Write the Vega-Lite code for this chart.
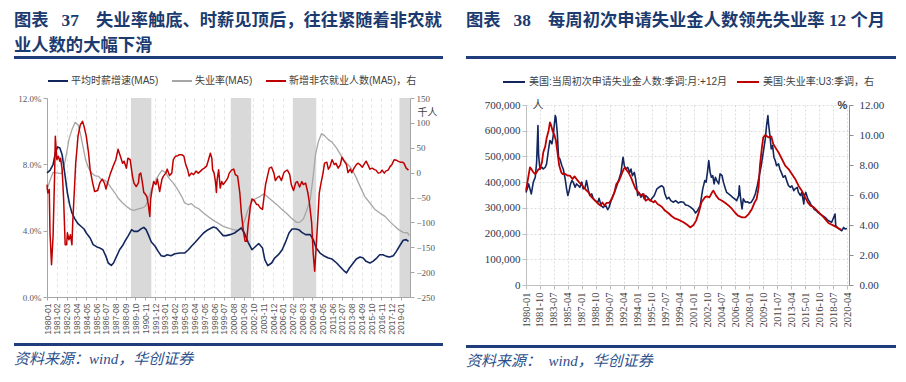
{
"$schema": "https://vega.github.io/schema/vega-lite/v6.json",
"background": "white",
"padding": {"left": 14, "top": 12, "right": 5, "bottom": 5},
"spacing": 23,
"resolve": {"scale": {"color": "independent"}, "legend": {"color": "independent"}},
"config": {
  "view": {"stroke": null},
  "title": {"font": "Liberation Serif, Noto Sans CJK SC", "fontWeight": "bold", "color": "#1b3a6f", "anchor": "start"},
  "line": {"strokeJoin": "round"}
},
"datasets": {
  "bandsL": [{"d":"1989-04","d2":"1991-07"},{"d":"2000-04","d2":"2002-07"},{"d":"2007-02","d2":"2009-09"},{"d":"2018-11","d2":"2020-01"}],
  "wage": [{"d":"1980-01","v":7.48},{"d":"1980-05","v":7.64},{"d":"1980-09","v":7.98},{"d":"1980-12","v":8.68},{"d":"1981-03","v":9.05},{"d":"1981-06","v":8.98},{"d":"1981-09","v":8.58},{"d":"1982-01","v":7.28},{"d":"1982-04","v":6.27},{"d":"1982-07","v":5.57},{"d":"1982-10","v":5.07},{"d":"1983-02","v":4.70},{"d":"1983-06","v":4.42},{"d":"1983-11","v":4.22},{"d":"1984-02","v":4.10},{"d":"1984-05","v":3.86},{"d":"1984-10","v":3.56},{"d":"1985-02","v":3.16},{"d":"1985-07","v":3.02},{"d":"1985-11","v":2.95},{"d":"1986-03","v":2.85},{"d":"1986-07","v":2.45},{"d":"1986-10","v":2.05},{"d":"1987-02","v":1.91},{"d":"1987-05","v":2.05},{"d":"1987-09","v":2.45},{"d":"1988-01","v":2.85},{"d":"1988-05","v":3.10},{"d":"1988-08","v":3.36},{"d":"1988-12","v":3.66},{"d":"1989-05","v":4.06},{"d":"1989-08","v":3.96},{"d":"1990-01","v":3.96},{"d":"1990-05","v":4.10},{"d":"1990-09","v":4.20},{"d":"1990-12","v":4.06},{"d":"1991-03","v":3.76},{"d":"1991-07","v":3.32},{"d":"1991-12","v":3.06},{"d":"1992-04","v":2.75},{"d":"1992-08","v":2.49},{"d":"1992-12","v":2.45},{"d":"1993-04","v":2.55},{"d":"1993-09","v":2.49},{"d":"1994-02","v":2.61},{"d":"1994-09","v":2.65},{"d":"1995-03","v":2.65},{"d":"1995-08","v":2.85},{"d":"1995-12","v":3.06},{"d":"1996-05","v":3.30},{"d":"1996-10","v":3.56},{"d":"1997-04","v":3.86},{"d":"1997-10","v":4.06},{"d":"1998-05","v":4.22},{"d":"1998-09","v":4.16},{"d":"1999-02","v":3.90},{"d":"1999-06","v":3.70},{"d":"1999-10","v":3.70},{"d":"2000-03","v":3.76},{"d":"2000-09","v":3.86},{"d":"2001-03","v":4.06},{"d":"2001-06","v":4.16},{"d":"2001-10","v":3.86},{"d":"2002-03","v":3.30},{"d":"2002-08","v":2.85},{"d":"2003-01","v":3.06},{"d":"2003-05","v":3.22},{"d":"2003-10","v":2.95},{"d":"2004-01","v":2.25},{"d":"2004-05","v":1.89},{"d":"2004-10","v":2.05},{"d":"2005-02","v":2.35},{"d":"2005-07","v":2.55},{"d":"2005-12","v":2.85},{"d":"2006-04","v":3.26},{"d":"2006-09","v":3.86},{"d":"2007-01","v":4.10},{"d":"2007-06","v":4.10},{"d":"2007-10","v":4.06},{"d":"2008-02","v":3.90},{"d":"2008-07","v":3.76},{"d":"2009-01","v":3.76},{"d":"2009-05","v":3.46},{"d":"2009-09","v":2.95},{"d":"2010-02","v":2.65},{"d":"2010-07","v":2.49},{"d":"2011-01","v":2.35},{"d":"2011-06","v":2.29},{"d":"2011-12","v":2.05},{"d":"2012-04","v":1.85},{"d":"2012-09","v":1.61},{"d":"2013-01","v":1.45},{"d":"2013-05","v":1.75},{"d":"2013-10","v":2.05},{"d":"2014-02","v":2.29},{"d":"2014-07","v":2.41},{"d":"2014-11","v":2.35},{"d":"2015-03","v":2.15},{"d":"2015-08","v":2.05},{"d":"2015-12","v":2.15},{"d":"2016-05","v":2.35},{"d":"2016-09","v":2.55},{"d":"2017-01","v":2.55},{"d":"2017-06","v":2.45},{"d":"2017-10","v":2.41},{"d":"2018-03","v":2.49},{"d":"2018-07","v":2.75},{"d":"2018-11","v":3.06},{"d":"2019-04","v":3.42},{"d":"2019-08","v":3.46},{"d":"2019-11","v":3.36}],
  "unemp": [{"d":"1980-01","v":6.47},{"d":"1980-05","v":7.03},{"d":"1980-09","v":7.52},{"d":"1981-02","v":7.48},{"d":"1981-08","v":7.44},{"d":"1981-12","v":7.98},{"d":"1982-03","v":8.68},{"d":"1982-06","v":9.49},{"d":"1982-10","v":10.09},{"d":"1983-02","v":10.53},{"d":"1983-06","v":10.39},{"d":"1983-09","v":9.89},{"d":"1984-01","v":8.98},{"d":"1984-04","v":8.28},{"d":"1984-08","v":7.78},{"d":"1984-12","v":7.48},{"d":"1985-04","v":7.32},{"d":"1985-09","v":7.28},{"d":"1986-01","v":7.08},{"d":"1986-06","v":7.03},{"d":"1986-10","v":6.83},{"d":"1987-02","v":6.57},{"d":"1987-07","v":6.27},{"d":"1987-11","v":5.97},{"d":"1988-05","v":5.67},{"d":"1988-10","v":5.47},{"d":"1989-04","v":5.27},{"d":"1989-08","v":5.23},{"d":"1990-02","v":5.31},{"d":"1990-07","v":5.37},{"d":"1990-11","v":5.47},{"d":"1991-03","v":5.87},{"d":"1991-07","v":6.47},{"d":"1991-12","v":6.97},{"d":"1992-05","v":7.38},{"d":"1992-09","v":7.64},{"d":"1993-02","v":7.48},{"d":"1993-06","v":7.18},{"d":"1993-12","v":6.87},{"d":"1994-06","v":6.47},{"d":"1994-11","v":6.07},{"d":"1995-03","v":5.67},{"d":"1995-08","v":5.57},{"d":"1995-12","v":5.63},{"d":"1996-05","v":5.43},{"d":"1996-10","v":5.31},{"d":"1997-04","v":5.07},{"d":"1997-10","v":4.86},{"d":"1998-05","v":4.62},{"d":"1998-11","v":4.46},{"d":"1999-06","v":4.26},{"d":"2000-01","v":4.16},{"d":"2000-07","v":4.06},{"d":"2001-01","v":4.02},{"d":"2001-05","v":4.10},{"d":"2001-10","v":4.56},{"d":"2002-02","v":5.17},{"d":"2002-07","v":5.71},{"d":"2002-12","v":5.91},{"d":"2003-07","v":6.07},{"d":"2003-12","v":6.23},{"d":"2004-05","v":6.03},{"d":"2004-10","v":5.83},{"d":"2005-05","v":5.57},{"d":"2005-11","v":5.31},{"d":"2006-06","v":5.03},{"d":"2006-12","v":4.76},{"d":"2007-07","v":4.50},{"d":"2007-11","v":4.50},{"d":"2008-04","v":4.70},{"d":"2008-08","v":5.17},{"d":"2009-01","v":5.87},{"d":"2009-05","v":7.28},{"d":"2009-08","v":8.58},{"d":"2009-12","v":9.39},{"d":"2010-04","v":9.85},{"d":"2010-08","v":9.73},{"d":"2011-01","v":9.49},{"d":"2011-06","v":9.33},{"d":"2011-12","v":8.98},{"d":"2012-04","v":8.68},{"d":"2012-09","v":8.28},{"d":"2013-01","v":8.08},{"d":"2013-07","v":7.78},{"d":"2013-12","v":7.38},{"d":"2014-07","v":6.67},{"d":"2015-01","v":6.07},{"d":"2015-08","v":5.67},{"d":"2016-02","v":5.31},{"d":"2016-09","v":5.07},{"d":"2017-04","v":4.86},{"d":"2017-10","v":4.56},{"d":"2018-05","v":4.26},{"d":"2018-10","v":4.06},{"d":"2019-04","v":3.90},{"d":"2019-10","v":3.86},{"d":"2019-12","v":3.70}],
  "nfp": [{"d":"1980-01","v":-24},{"d":"1980-02","v":-41},{"d":"1980-04","v":-34},{"d":"1980-05","v":-121},{"d":"1980-07","v":-185},{"d":"1980-09","v":-128},{"d":"1980-11","v":-7},{"d":"1980-12","v":73},{"d":"1981-02","v":26},{"d":"1981-04","v":33},{"d":"1981-06","v":23},{"d":"1981-07","v":29},{"d":"1981-09","v":6},{"d":"1981-11","v":-54},{"d":"1982-01","v":-145},{"d":"1982-03","v":-145},{"d":"1982-04","v":-121},{"d":"1982-06","v":-135},{"d":"1982-08","v":-125},{"d":"1982-10","v":-145},{"d":"1982-11","v":-101},{"d":"1983-01","v":-41},{"d":"1983-03","v":19},{"d":"1983-05","v":53},{"d":"1983-06","v":73},{"d":"1983-09","v":96},{"d":"1983-12","v":103},{"d":"1984-02","v":93},{"d":"1984-05","v":73},{"d":"1984-08","v":39},{"d":"1984-10","v":6},{"d":"1985-01","v":-18},{"d":"1985-04","v":-38},{"d":"1985-08","v":-36},{"d":"1985-11","v":-20},{"d":"1986-02","v":-13},{"d":"1986-05","v":-21},{"d":"1986-07","v":-33},{"d":"1986-10","v":-16},{"d":"1987-01","v":-1},{"d":"1987-04","v":11},{"d":"1987-08","v":26},{"d":"1987-11","v":47},{"d":"1988-02","v":33},{"d":"1988-05","v":19},{"d":"1988-07","v":23},{"d":"1988-10","v":9},{"d":"1988-12","v":29},{"d":"1989-03","v":26},{"d":"1989-06","v":-7},{"d":"1989-08","v":-21},{"d":"1989-11","v":-28},{"d":"1990-02","v":-20},{"d":"1990-03","v":-4},{"d":"1990-05","v":-1},{"d":"1990-07","v":-18},{"d":"1990-09","v":-40},{"d":"1990-10","v":-41},{"d":"1991-01","v":-48},{"d":"1991-03","v":-64},{"d":"1991-05","v":-88},{"d":"1991-06","v":-54},{"d":"1991-08","v":-34},{"d":"1991-10","v":-18},{"d":"1992-01","v":-24},{"d":"1992-03","v":-13},{"d":"1992-06","v":-38},{"d":"1992-09","v":-13},{"d":"1992-11","v":-7},{"d":"1993-02","v":-1},{"d":"1993-04","v":7},{"d":"1993-07","v":-6},{"d":"1993-10","v":-1},{"d":"1993-12","v":26},{"d":"1994-03","v":33},{"d":"1994-06","v":34},{"d":"1994-08","v":36},{"d":"1994-11","v":36},{"d":"1995-02","v":33},{"d":"1995-04","v":19},{"d":"1995-07","v":6},{"d":"1995-09","v":-7},{"d":"1995-12","v":-1},{"d":"1996-03","v":-4},{"d":"1996-06","v":3},{"d":"1996-09","v":-1},{"d":"1996-12","v":3},{"d":"1997-02","v":6},{"d":"1997-05","v":9},{"d":"1997-08","v":13},{"d":"1997-10","v":23},{"d":"1998-01","v":39},{"d":"1998-03","v":29},{"d":"1998-04","v":6},{"d":"1998-06","v":-1},{"d":"1998-08","v":-21},{"d":"1998-09","v":-40},{"d":"1998-10","v":-14},{"d":"1998-12","v":6},{"d":"1999-02","v":-31},{"d":"1999-04","v":-18},{"d":"1999-06","v":-24},{"d":"1999-09","v":-18},{"d":"1999-12","v":-11},{"d":"2000-02","v":-1},{"d":"2000-05","v":5},{"d":"2000-08","v":7},{"d":"2000-10","v":-4},{"d":"2001-01","v":-7},{"d":"2001-04","v":-41},{"d":"2001-06","v":-81},{"d":"2001-09","v":-121},{"d":"2001-11","v":-138},{"d":"2002-01","v":-138},{"d":"2002-03","v":-105},{"d":"2002-06","v":-68},{"d":"2002-08","v":-53},{"d":"2002-11","v":-56},{"d":"2003-02","v":-64},{"d":"2003-04","v":-64},{"d":"2003-07","v":-71},{"d":"2003-10","v":-74},{"d":"2003-11","v":-61},{"d":"2004-02","v":-24},{"d":"2004-05","v":-4},{"d":"2004-07","v":9},{"d":"2004-10","v":11},{"d":"2005-01","v":-1},{"d":"2005-03","v":-16},{"d":"2005-06","v":-9},{"d":"2005-08","v":-7},{"d":"2005-11","v":-16},{"d":"2006-02","v":-1},{"d":"2006-04","v":3},{"d":"2006-07","v":5},{"d":"2006-10","v":-4},{"d":"2006-12","v":-24},{"d":"2007-03","v":-36},{"d":"2007-06","v":-20},{"d":"2007-08","v":-18},{"d":"2007-11","v":-29},{"d":"2008-02","v":-18},{"d":"2008-04","v":-24},{"d":"2008-07","v":-21},{"d":"2008-10","v":-41},{"d":"2008-12","v":-61},{"d":"2009-03","v":-101},{"d":"2009-05","v":-162},{"d":"2009-07","v":-198},{"d":"2009-09","v":-148},{"d":"2009-11","v":-95},{"d":"2010-01","v":-41},{"d":"2010-03","v":-24},{"d":"2010-06","v":-1},{"d":"2010-08","v":19},{"d":"2010-11","v":21},{"d":"2011-01","v":7},{"d":"2011-03","v":11},{"d":"2011-06","v":26},{"d":"2011-09","v":16},{"d":"2011-11","v":19},{"d":"2012-02","v":9},{"d":"2012-05","v":16},{"d":"2012-07","v":31},{"d":"2012-10","v":23},{"d":"2013-01","v":16},{"d":"2013-03","v":0},{"d":"2013-06","v":7},{"d":"2013-08","v":0},{"d":"2013-11","v":9},{"d":"2014-02","v":16},{"d":"2014-04","v":19},{"d":"2014-07","v":16},{"d":"2014-10","v":11},{"d":"2014-12","v":16},{"d":"2015-03","v":23},{"d":"2015-06","v":14},{"d":"2015-08","v":7},{"d":"2015-11","v":9},{"d":"2016-02","v":6},{"d":"2016-04","v":5},{"d":"2016-07","v":-1},{"d":"2016-10","v":0},{"d":"2016-12","v":5},{"d":"2017-03","v":-1},{"d":"2017-05","v":3},{"d":"2017-08","v":5},{"d":"2017-11","v":13},{"d":"2018-01","v":16},{"d":"2018-04","v":26},{"d":"2018-07","v":25},{"d":"2018-09","v":23},{"d":"2018-12","v":21},{"d":"2019-03","v":21},{"d":"2019-05","v":19},{"d":"2019-08","v":9},{"d":"2019-11","v":5}],
  "claims": [{"d":"1980-01","v":360000},{"d":"1980-05","v":393000},{"d":"1980-09","v":354000},{"d":"1980-12","v":400000},{"d":"1981-03","v":419000},{"d":"1981-05","v":477000},{"d":"1981-07","v":620000},{"d":"1981-08","v":503000},{"d":"1981-10","v":451000},{"d":"1982-01","v":458000},{"d":"1982-03","v":451000},{"d":"1982-06","v":458000},{"d":"1982-08","v":471000},{"d":"1982-11","v":529000},{"d":"1983-01","v":562000},{"d":"1983-04","v":549000},{"d":"1983-06","v":581000},{"d":"1983-09","v":659000},{"d":"1983-10","v":652000},{"d":"1983-12","v":594000},{"d":"1984-02","v":497000},{"d":"1984-04","v":490000},{"d":"1984-07","v":464000},{"d":"1984-09","v":451000},{"d":"1984-12","v":412000},{"d":"1985-02","v":374000},{"d":"1985-04","v":348000},{"d":"1985-06","v":367000},{"d":"1985-08","v":393000},{"d":"1985-10","v":406000},{"d":"1985-12","v":400000},{"d":"1986-03","v":380000},{"d":"1986-05","v":393000},{"d":"1986-08","v":386000},{"d":"1986-10","v":380000},{"d":"1987-01","v":400000},{"d":"1987-03","v":374000},{"d":"1987-06","v":380000},{"d":"1987-08","v":406000},{"d":"1987-11","v":367000},{"d":"1988-01","v":348000},{"d":"1988-04","v":354000},{"d":"1988-06","v":337000},{"d":"1988-09","v":328000},{"d":"1989-01","v":322000},{"d":"1989-03","v":337000},{"d":"1989-06","v":309000},{"d":"1989-09","v":302000},{"d":"1990-01","v":309000},{"d":"1990-04","v":293000},{"d":"1990-06","v":302000},{"d":"1990-10","v":335000},{"d":"1991-02","v":360000},{"d":"1991-05","v":380000},{"d":"1991-09","v":412000},{"d":"1991-12","v":438000},{"d":"1992-03","v":497000},{"d":"1992-05","v":464000},{"d":"1992-07","v":451000},{"d":"1992-10","v":458000},{"d":"1993-01","v":438000},{"d":"1993-03","v":451000},{"d":"1993-05","v":425000},{"d":"1993-08","v":438000},{"d":"1993-10","v":412000},{"d":"1994-01","v":348000},{"d":"1994-03","v":360000},{"d":"1994-06","v":341000},{"d":"1994-08","v":354000},{"d":"1994-11","v":335000},{"d":"1995-01","v":348000},{"d":"1995-04","v":341000},{"d":"1995-08","v":328000},{"d":"1995-10","v":335000},{"d":"1996-02","v":348000},{"d":"1996-06","v":374000},{"d":"1996-09","v":380000},{"d":"1997-01","v":386000},{"d":"1997-04","v":380000},{"d":"1997-06","v":354000},{"d":"1997-09","v":335000},{"d":"1997-12","v":341000},{"d":"1998-03","v":328000},{"d":"1998-07","v":322000},{"d":"1998-10","v":328000},{"d":"1999-02","v":319000},{"d":"1999-06","v":324000},{"d":"1999-10","v":322000},{"d":"2000-01","v":311000},{"d":"2000-05","v":309000},{"d":"2000-09","v":302000},{"d":"2001-01","v":293000},{"d":"2001-04","v":280000},{"d":"2001-07","v":289000},{"d":"2001-11","v":309000},{"d":"2002-03","v":374000},{"d":"2002-06","v":406000},{"d":"2002-08","v":400000},{"d":"2002-10","v":438000},{"d":"2002-12","v":484000},{"d":"2003-02","v":438000},{"d":"2003-04","v":419000},{"d":"2003-06","v":425000},{"d":"2003-08","v":393000},{"d":"2003-10","v":419000},{"d":"2003-12","v":406000},{"d":"2004-03","v":393000},{"d":"2004-05","v":432000},{"d":"2004-08","v":425000},{"d":"2004-10","v":400000},{"d":"2005-01","v":374000},{"d":"2005-03","v":360000},{"d":"2005-06","v":354000},{"d":"2005-09","v":348000},{"d":"2005-12","v":341000},{"d":"2006-03","v":335000},{"d":"2006-06","v":328000},{"d":"2006-09","v":348000},{"d":"2006-10","v":386000},{"d":"2006-12","v":335000},{"d":"2007-02","v":296000},{"d":"2007-04","v":335000},{"d":"2007-07","v":322000},{"d":"2007-10","v":324000},{"d":"2008-01","v":319000},{"d":"2008-04","v":322000},{"d":"2008-07","v":335000},{"d":"2008-10","v":354000},{"d":"2009-01","v":386000},{"d":"2009-04","v":425000},{"d":"2009-07","v":464000},{"d":"2009-10","v":516000},{"d":"2010-01","v":568000},{"d":"2010-03","v":620000},{"d":"2010-05","v":659000},{"d":"2010-06","v":626000},{"d":"2010-08","v":581000},{"d":"2010-10","v":529000},{"d":"2010-12","v":542000},{"d":"2011-02","v":497000},{"d":"2011-04","v":484000},{"d":"2011-06","v":464000},{"d":"2011-09","v":471000},{"d":"2011-11","v":451000},{"d":"2012-02","v":432000},{"d":"2012-04","v":419000},{"d":"2012-07","v":425000},{"d":"2012-10","v":400000},{"d":"2012-12","v":386000},{"d":"2013-03","v":380000},{"d":"2013-05","v":386000},{"d":"2013-08","v":367000},{"d":"2013-10","v":374000},{"d":"2014-01","v":380000},{"d":"2014-03","v":360000},{"d":"2014-06","v":348000},{"d":"2014-08","v":360000},{"d":"2014-11","v":315000},{"d":"2014-12","v":348000},{"d":"2015-02","v":360000},{"d":"2015-05","v":335000},{"d":"2015-08","v":322000},{"d":"2015-10","v":311000},{"d":"2016-01","v":302000},{"d":"2016-03","v":293000},{"d":"2016-06","v":289000},{"d":"2016-08","v":283000},{"d":"2017-02","v":272000},{"d":"2017-07","v":263000},{"d":"2017-12","v":250000},{"d":"2018-05","v":244000},{"d":"2018-10","v":276000},{"d":"2018-11","v":231000},{"d":"2019-03","v":220000},{"d":"2019-08","v":211000},{"d":"2019-11","v":224000},{"d":"2020-01","v":218000},{"d":"2020-04","v":220000}],
  "ur": [{"d":"1980-01","v":6.29},{"d":"1980-04","v":7.07},{"d":"1980-07","v":7.84},{"d":"1980-09","v":7.73},{"d":"1980-12","v":7.51},{"d":"1981-03","v":7.40},{"d":"1981-05","v":7.51},{"d":"1981-08","v":7.73},{"d":"1981-10","v":7.73},{"d":"1982-01","v":8.18},{"d":"1982-03","v":8.84},{"d":"1982-06","v":9.24},{"d":"1982-08","v":9.78},{"d":"1982-11","v":10.29},{"d":"1983-01","v":10.84},{"d":"1983-03","v":10.62},{"d":"1983-05","v":10.29},{"d":"1983-08","v":9.96},{"d":"1983-10","v":9.62},{"d":"1984-01","v":8.62},{"d":"1984-03","v":7.96},{"d":"1984-06","v":7.51},{"d":"1984-08","v":7.40},{"d":"1984-12","v":7.40},{"d":"1985-04","v":7.29},{"d":"1985-07","v":7.29},{"d":"1985-11","v":7.07},{"d":"1986-02","v":7.24},{"d":"1986-05","v":7.07},{"d":"1986-09","v":6.84},{"d":"1987-01","v":6.67},{"d":"1987-06","v":6.40},{"d":"1987-11","v":6.18},{"d":"1988-04","v":5.84},{"d":"1988-09","v":5.62},{"d":"1989-02","v":5.40},{"d":"1989-05","v":5.29},{"d":"1989-08","v":5.51},{"d":"1989-11","v":5.29},{"d":"1990-02","v":5.47},{"d":"1990-06","v":5.47},{"d":"1990-10","v":5.73},{"d":"1991-02","v":6.18},{"d":"1991-05","v":6.73},{"d":"1991-09","v":6.96},{"d":"1992-01","v":7.40},{"d":"1992-04","v":7.73},{"d":"1992-06","v":7.84},{"d":"1992-09","v":7.62},{"d":"1992-11","v":7.51},{"d":"1993-03","v":7.18},{"d":"1993-07","v":6.73},{"d":"1993-10","v":6.40},{"d":"1994-02","v":6.18},{"d":"1994-06","v":5.96},{"d":"1994-10","v":6.07},{"d":"1995-01","v":5.62},{"d":"1995-05","v":5.73},{"d":"1995-09","v":5.62},{"d":"1996-01","v":5.51},{"d":"1996-03","v":5.62},{"d":"1996-07","v":5.40},{"d":"1996-11","v":5.29},{"d":"1997-02","v":5.18},{"d":"1997-06","v":4.96},{"d":"1997-11","v":4.80},{"d":"1998-04","v":4.60},{"d":"1998-09","v":4.44},{"d":"1999-02","v":4.36},{"d":"1999-10","v":4.18},{"d":"2000-04","v":4.00},{"d":"2000-08","v":3.84},{"d":"2001-01","v":4.00},{"d":"2001-05","v":4.29},{"d":"2001-09","v":4.84},{"d":"2002-01","v":5.51},{"d":"2002-06","v":5.84},{"d":"2002-09","v":5.91},{"d":"2003-01","v":5.84},{"d":"2003-05","v":6.18},{"d":"2003-07","v":6.29},{"d":"2003-11","v":5.96},{"d":"2004-03","v":5.73},{"d":"2004-08","v":5.62},{"d":"2005-01","v":5.47},{"d":"2005-06","v":5.29},{"d":"2005-11","v":5.07},{"d":"2006-04","v":4.80},{"d":"2006-08","v":4.62},{"d":"2007-02","v":4.51},{"d":"2007-07","v":4.51},{"d":"2007-12","v":4.73},{"d":"2008-05","v":5.07},{"d":"2008-09","v":5.51},{"d":"2008-12","v":5.73},{"d":"2009-03","v":6.51},{"d":"2009-05","v":7.96},{"d":"2009-08","v":9.18},{"d":"2009-10","v":9.84},{"d":"2010-01","v":10.0},{"d":"2010-06","v":9.84},{"d":"2010-10","v":9.91},{"d":"2011-01","v":9.40},{"d":"2011-05","v":9.11},{"d":"2011-09","v":8.84},{"d":"2012-02","v":8.40},{"d":"2012-07","v":7.96},{"d":"2012-12","v":7.73},{"d":"2013-05","v":7.40},{"d":"2013-10","v":7.07},{"d":"2014-03","v":6.62},{"d":"2014-08","v":6.29},{"d":"2015-01","v":5.84},{"d":"2015-05","v":5.51},{"d":"2015-09","v":5.29},{"d":"2016-02","v":5.18},{"d":"2016-07","v":4.96},{"d":"2016-12","v":4.73},{"d":"2017-05","v":4.51},{"d":"2017-12","v":4.13},{"d":"2018-08","v":3.96},{"d":"2019-03","v":3.78},{"d":"2019-07","v":3.69}]
},
"hconcat": [
  {"spacing": 7, "resolve": {"scale": {"color": "independent"}, "legend": {"color": "independent"}}, "vconcat": [
    {"width": 429, "height": 3, "data": {"values": [{}]}, "mark": {"type": "text", "text": ""}, "view": {"fill": "#1f3d7a", "stroke": null},
     "title": {"text": ["图表\u00a0\u00a0\u00a037\u00a0\u00a0\u00a0\u00a0失业率触底、时薪见顶后，往往紧随着非农就", "业人数的大幅下滑"], "fontSize": 17.3, "lineHeight": 25, "offset": -3, "anchor": "start"}},
    {"spacing": 3, "resolve": {"scale": {"color": "independent"}, "legend": {"color": "independent"}}, "vconcat": [
      {"spacing": 2, "resolve": {"scale": {"color": "independent"}, "legend": {"color": "independent"}}, "hconcat": [
        {"width": 1, "height": 1, "data": {"values": [{}]}, "mark": {"type": "text", "text": ""}, "view": {"stroke": null}},
        {"width": 363, "height": 199,
         "encoding": {"x": {"field": "d", "type": "temporal",
            "scale": {"type": "utc", "domain": [{"year":1980,"month":1,"date":1,"utc":true},{"year":2020,"month":1,"date":1,"utc":true}]},
            "axis": {"title": null, "values": [{"year":1980,"month":1,"utc":true},{"year":1981,"month":2,"utc":true},{"year":1982,"month":3,"utc":true},{"year":1983,"month":4,"utc":true},{"year":1984,"month":5,"utc":true},{"year":1985,"month":6,"utc":true},{"year":1986,"month":7,"utc":true},{"year":1987,"month":8,"utc":true},{"year":1988,"month":9,"utc":true},{"year":1989,"month":10,"utc":true},{"year":1990,"month":11,"utc":true},{"year":1991,"month":12,"utc":true},{"year":1993,"month":1,"utc":true},{"year":1994,"month":2,"utc":true},{"year":1995,"month":3,"utc":true},{"year":1996,"month":4,"utc":true},{"year":1997,"month":5,"utc":true},{"year":1998,"month":6,"utc":true},{"year":1999,"month":7,"utc":true},{"year":2000,"month":8,"utc":true},{"year":2001,"month":9,"utc":true},{"year":2002,"month":10,"utc":true},{"year":2003,"month":11,"utc":true},{"year":2004,"month":12,"utc":true},{"year":2006,"month":1,"utc":true},{"year":2007,"month":2,"utc":true},{"year":2008,"month":3,"utc":true},{"year":2009,"month":4,"utc":true},{"year":2010,"month":5,"utc":true},{"year":2011,"month":6,"utc":true},{"year":2012,"month":7,"utc":true},{"year":2013,"month":8,"utc":true},{"year":2014,"month":9,"utc":true},{"year":2015,"month":10,"utc":true},{"year":2016,"month":11,"utc":true},{"year":2017,"month":12,"utc":true},{"year":2019,"month":1,"utc":true}],
              "labelExpr": "utcFormat(datum.value, '%Y-%m')", "labelAngle": -90, "labelFont": "Liberation Sans", "labelFontSize": 8.5, "labelColor": "#595959", "labelPadding": 3, "labelOverlap": false, "labelFlush": false,
              "domainColor": "#a6a6a6", "tickColor": "#a6a6a6", "tickSize": 3, "grid": true, "gridColor": "#e3e3e3", "gridDash": [3, 3]}}},
         "layer": [
           {"data": {"name": "bandsL"}, "mark": {"type": "rect", "color": "#d9d9d9"}, "encoding": {"x2": {"field": "d2"}}},
           {"layer": [
             {"data": {"name": "unemp"}, "mark": {"type": "line", "strokeWidth": 1.3},
              "encoding": {"y": {"field": "v", "type": "quantitative", "scale": {"domain": [0, 12], "nice": false},
                  "axis": {"orient": "left", "title": null, "values": [0, 2, 4, 6, 8, 10, 12], "labelExpr": "format(datum.value, '.1f') + '%'", "grid": false, "labelFont": "Liberation Serif", "labelFontSize": 9, "labelColor": "#595959", "domainColor": "#a6a6a6", "tickColor": "#a6a6a6", "tickSize": 4, "labelPadding": 2}},
                "color": {"datum": "失业率(MA5)", "type": "nominal", "scale": {"domain": ["平均时薪增速(MA5)", "失业率(MA5)", "新增非农就业人数(MA5)，右"], "range": ["#13275e", "#a6a6a6", "#c00000"]},
                  "legend": {"orient": "none", "legendX": 0, "legendY": -28, "direction": "horizontal", "columns": 3, "title": null, "symbolType": "stroke", "symbolStrokeWidth": 2, "symbolSize": 400, "labelFontSize": 10, "labelFont": "Liberation Sans, Noto Sans CJK SC", "labelColor": "#404040", "columnPadding": 12, "labelOffset": 2, "labelLimit": 400}}}},
             {"data": {"name": "wage"}, "mark": {"type": "line", "strokeWidth": 1.6},
              "encoding": {"y": {"field": "v", "type": "quantitative"},
                "color": {"datum": "平均时薪增速(MA5)", "type": "nominal", "scale": {"domain": ["平均时薪增速(MA5)", "失业率(MA5)", "新增非农就业人数(MA5)，右"], "range": ["#13275e", "#a6a6a6", "#c00000"]}}}}
           ]},
           {"data": {"name": "nfp"}, "mark": {"type": "line", "strokeWidth": 1.5},
            "encoding": {"y": {"field": "v", "type": "quantitative", "scale": {"domain": [-250, 150], "nice": false, "zero": false},
                "axis": {"orient": "right", "values": [-250, -200, -150, -100, -50, 0, 50, 100, 150], "title": "千人", "titleAngle": 0, "titleAlign": "left", "titleBaseline": "middle", "titleX": 7, "titleY": 14, "titleFont": "Noto Sans CJK SC", "titleFontSize": 10, "titleFontWeight": "normal", "titleColor": "#404040", "grid": false, "labelFont": "Liberation Serif", "labelFontSize": 9, "labelColor": "#595959", "domainColor": "#a6a6a6", "tickColor": "#a6a6a6", "tickSize": 4, "labelPadding": 2}},
              "color": {"datum": "新增非农就业人数(MA5)，右", "type": "nominal", "scale": {"domain": ["平均时薪增速(MA5)", "失业率(MA5)", "新增非农就业人数(MA5)，右"], "range": ["#13275e", "#a6a6a6", "#c00000"]}}}}
         ],
         "resolve": {"scale": {"y": "independent"}}}
      ]},
      {"width": 429, "height": 3, "data": {"values": [{}]}, "mark": {"type": "text", "text": ""}, "view": {"fill": "#1f3d7a", "stroke": null},
       "title": {"text": "资料来源：wind，华创证券", "orient": "bottom", "anchor": "start", "fontSize": 15, "fontStyle": "italic", "fontWeight": "normal", "color": "#2c4f8c", "offset": 2, "font": "Liberation Serif, Noto Sans CJK SC"}}
    ]}
  ]},
  {"spacing": 7, "resolve": {"scale": {"color": "independent"}, "legend": {"color": "independent"}}, "vconcat": [
    {"width": 430, "height": 3, "data": {"values": [{}]}, "mark": {"type": "text", "text": ""}, "view": {"fill": "#1f3d7a", "stroke": null},
     "title": {"text": ["图表\u00a0\u00a0\u00a038\u00a0\u00a0\u00a0\u00a0每周初次申请失业金人数领先失业率\u00a012\u00a0个月", "\u00a0"], "fontSize": 17.3, "lineHeight": 25, "offset": -3, "anchor": "start"}},
    {"spacing": 13, "resolve": {"scale": {"color": "independent"}, "legend": {"color": "independent"}}, "vconcat": [
      {"spacing": 17, "resolve": {"scale": {"color": "independent"}, "legend": {"color": "independent"}}, "hconcat": [
        {"width": 1, "height": 1, "data": {"values": [{}]}, "mark": {"type": "text", "text": ""}, "view": {"stroke": null}},
        {"width": 323, "height": 180,
         "encoding": {"x": {"field": "d", "type": "temporal",
            "scale": {"type": "utc", "domain": [{"year":1980,"month":1,"date":1,"utc":true},{"year":2020,"month":7,"date":1,"utc":true}]},
            "axis": {"title": null, "values": [{"year":1980,"month":1,"utc":true},{"year":1981,"month":10,"utc":true},{"year":1983,"month":7,"utc":true},{"year":1985,"month":4,"utc":true},{"year":1987,"month":1,"utc":true},{"year":1988,"month":10,"utc":true},{"year":1990,"month":7,"utc":true},{"year":1992,"month":4,"utc":true},{"year":1994,"month":1,"utc":true},{"year":1995,"month":10,"utc":true},{"year":1997,"month":7,"utc":true},{"year":1999,"month":4,"utc":true},{"year":2001,"month":1,"utc":true},{"year":2002,"month":10,"utc":true},{"year":2004,"month":7,"utc":true},{"year":2006,"month":4,"utc":true},{"year":2008,"month":1,"utc":true},{"year":2009,"month":10,"utc":true},{"year":2011,"month":7,"utc":true},{"year":2013,"month":4,"utc":true},{"year":2015,"month":1,"utc":true},{"year":2016,"month":10,"utc":true},{"year":2018,"month":7,"utc":true},{"year":2020,"month":4,"utc":true}],
              "labelExpr": "utcFormat(datum.value, '%Y-%m')", "labelAngle": -90, "labelFont": "Liberation Serif", "labelFontSize": 10.5, "labelColor": "#404040", "labelPadding": 3, "labelOverlap": false, "labelFlush": false,
              "domainColor": "#bfbfbf", "tickColor": "#bfbfbf", "tickSize": 4, "grid": true, "gridColor": "#dcdcdc", "gridDash": [2, 2]}}},
         "layer": [
           {"data": {"name": "claims"}, "mark": {"type": "line", "strokeWidth": 1.6},
            "encoding": {"y": {"field": "v", "type": "quantitative", "scale": {"domain": [0, 700000], "nice": false},
                "axis": {"orient": "left", "values": [0, 100000, 200000, 300000, 400000, 500000, 600000, 700000], "labelExpr": "format(datum.value, ',d')", "title": "人", "titleAngle": 0, "titleAlign": "left", "titleBaseline": "middle", "titleX": 6, "titleY": 0, "titleFont": "Noto Sans CJK SC", "titleFontSize": 11, "titleFontWeight": "normal", "titleColor": "#404040", "grid": true, "gridColor": "#dcdcdc", "gridDash": [2, 2], "labelFont": "Liberation Serif", "labelFontSize": 11, "labelColor": "#2b3650", "domainColor": "#bfbfbf", "tickColor": "#bfbfbf", "tickSize": 4, "labelPadding": 2}},
              "color": {"datum": "美国:当周初次申请失业金人数:季调:月:+12月", "type": "nominal", "scale": {"domain": ["美国:当周初次申请失业金人数:季调:月:+12月", "美国:失业率:U3:季调，右"], "range": ["#13275e", "#c00000"]},
                "legend": {"orient": "none", "legendX": -24, "legendY": -35, "direction": "horizontal", "columns": 2, "title": null, "symbolType": "stroke", "symbolStrokeWidth": 2, "symbolSize": 484, "labelFontSize": 10, "labelFont": "Liberation Sans, Noto Sans CJK SC", "labelColor": "#404040", "columnPadding": 8, "labelOffset": 3, "labelLimit": 400}}}},
           {"data": {"name": "ur"}, "mark": {"type": "line", "strokeWidth": 1.8},
            "encoding": {"y": {"field": "v", "type": "quantitative", "scale": {"domain": [0, 12], "nice": false},
                "axis": {"orient": "right", "values": [0, 2, 4, 6, 8, 10, 12], "labelExpr": "format(datum.value, '.2f')", "title": "%", "titleAngle": 0, "titleAlign": "left", "titleBaseline": "middle", "titleX": -12, "titleY": 0, "titleFont": "Liberation Sans", "titleFontSize": 11, "titleFontWeight": "bold", "titleColor": "#404040", "grid": false, "labelFont": "Liberation Serif", "labelFontSize": 11, "labelColor": "#2b3650", "domainColor": "#8c8c8c", "tickColor": "#8c8c8c", "tickSize": 4, "labelPadding": 6}},
              "color": {"datum": "美国:失业率:U3:季调，右", "type": "nominal", "scale": {"domain": ["美国:当周初次申请失业金人数:季调:月:+12月", "美国:失业率:U3:季调，右"], "range": ["#13275e", "#c00000"]}}}}
         ],
         "resolve": {"scale": {"y": "independent"}}}
      ]},
      {"width": 430, "height": 3, "data": {"values": [{}]}, "mark": {"type": "text", "text": ""}, "view": {"fill": "#1f3d7a", "stroke": null},
       "title": {"text": "资料来源：\u00a0\u00a0wind，华创证券", "orient": "bottom", "anchor": "start", "fontSize": 15, "fontStyle": "italic", "fontWeight": "normal", "color": "#2c4f8c", "offset": 2, "font": "Liberation Serif, Noto Sans CJK SC"}}
    ]}
  ]}
]
}
